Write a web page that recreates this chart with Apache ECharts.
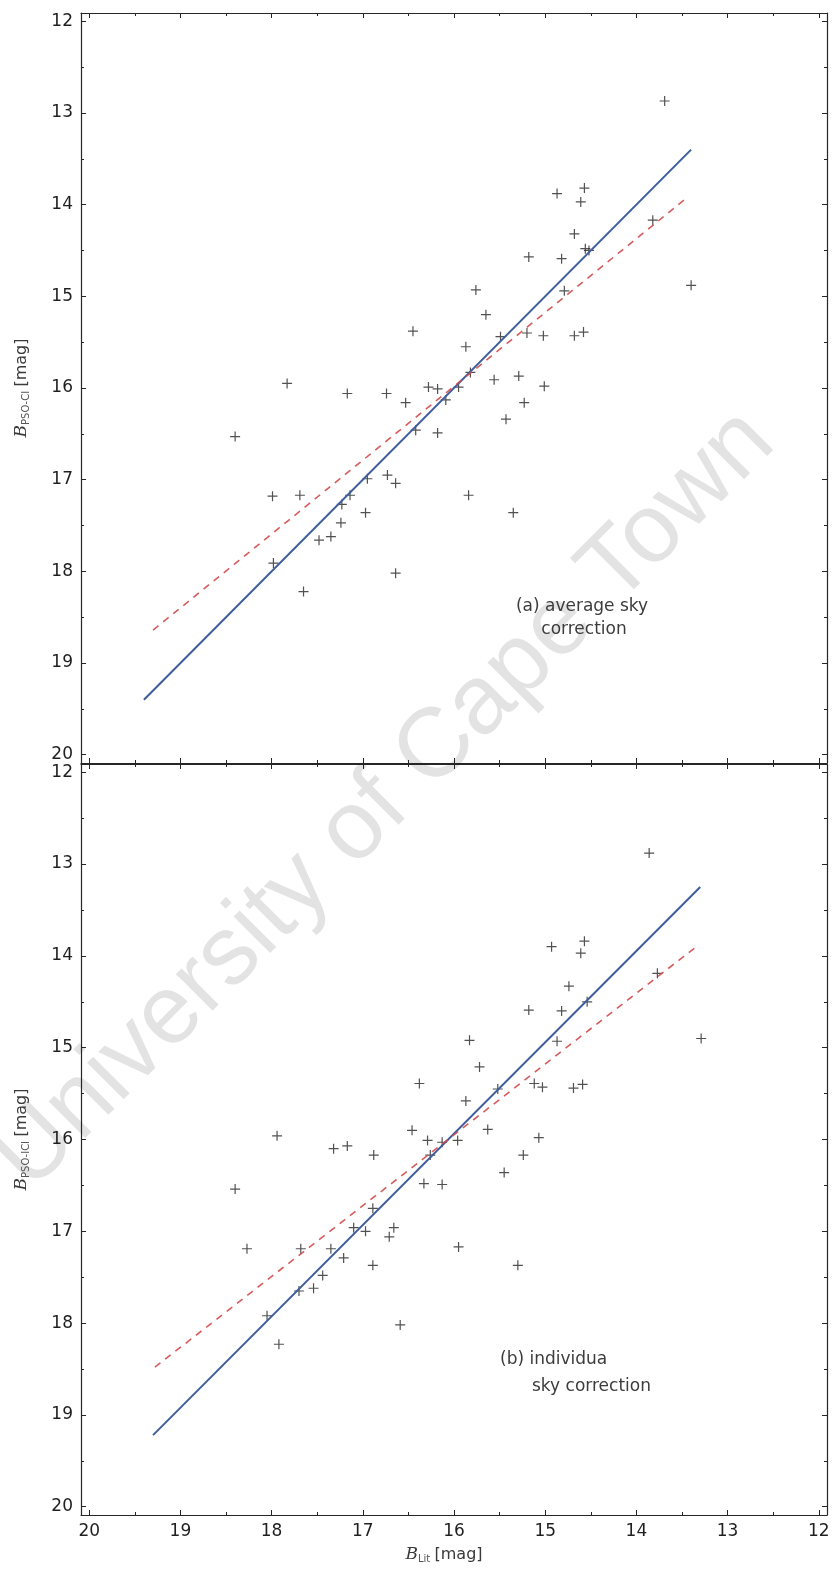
<!DOCTYPE html>
<html>
<head>
<meta charset="utf-8">
<script src="https://cdn.jsdelivr.net/npm/echarts@6/dist/echarts.min.js"></script>
<style>
  html, body { margin: 0; padding: 0; background: #ffffff; }
  #chart { width: 832px; height: 1573px; }
</style>
</head>
<body>
<div id="chart"></div>
<script>
// Tick values shared by both panels (magnitudes, axes run from faint to bright)
const majorTicks = [12, 13, 14, 15, 16, 17, 18, 19, 20];
const minorTicks = [12.5, 13.5, 14.5, 15.5, 16.5, 17.5, 18.5, 19.5];

// (a) average sky correction: [B_Lit, B_PSO-CI]
const avgSkyStars = [
  [13.69, 12.87], [14.57, 13.82], [14.87, 13.88], [14.61, 13.97], [14.68, 14.32],
  [14.56, 14.48], [14.52, 14.50], [15.18, 14.57], [14.82, 14.59], [13.82, 14.17],
  [13.40, 14.88], [15.76, 14.93], [14.79, 14.94], [15.65, 15.20], [16.45, 15.38],
  [15.20, 15.40], [15.02, 15.43], [14.68, 15.43], [14.58, 15.39], [15.49, 15.44],
  [15.87, 15.55], [15.82, 15.83], [17.83, 15.95], [17.17, 16.06], [16.74, 16.06],
  [16.53, 16.16], [16.28, 15.99], [16.18, 16.01], [15.95, 15.99], [15.56, 15.91],
  [15.29, 15.87], [15.01, 15.98], [16.09, 16.13], [15.23, 16.16], [15.43, 16.34],
  [16.42, 16.46], [16.18, 16.49], [18.40, 16.53], [17.99, 17.18], [17.69, 17.17],
  [16.95, 16.99], [16.73, 16.95], [16.64, 17.04], [17.14, 17.17], [17.23, 17.27],
  [16.97, 17.36], [17.24, 17.47], [17.48, 17.66], [17.35, 17.62], [17.98, 17.91],
  [17.65, 18.22], [16.64, 18.02], [15.84, 17.17], [15.35, 17.36]
];
// (b) individual sky correction: [B_Lit, B_PSO-ICI]
const indivSkyStars = [
  [13.86, 12.88], [14.57, 13.84], [14.93, 13.90], [14.61, 13.97], [14.74, 14.33],
  [13.77, 14.19], [14.54, 14.50], [15.18, 14.59], [14.82, 14.60], [13.29, 14.90],
  [14.87, 14.93], [15.83, 14.92], [15.72, 15.21], [16.38, 15.39], [15.87, 15.58],
  [15.52, 15.45], [15.12, 15.39], [15.03, 15.43], [14.69, 15.44], [14.59, 15.40],
  [16.46, 15.90], [15.63, 15.89], [15.07, 15.98], [15.96, 16.01], [16.13, 16.03],
  [16.29, 16.01], [15.24, 16.17], [16.26, 16.17], [17.94, 15.96], [17.32, 16.10],
  [17.17, 16.07], [16.88, 16.17], [15.45, 16.36], [16.33, 16.48], [16.13, 16.49],
  [18.40, 16.54], [16.89, 16.75], [17.10, 16.96], [16.97, 17.00], [16.71, 17.06],
  [16.66, 16.96], [18.27, 17.19], [17.68, 17.19], [17.35, 17.19], [17.21, 17.29],
  [16.89, 17.37], [17.44, 17.48], [17.54, 17.62], [17.70, 17.65], [18.05, 17.92],
  [16.59, 18.02], [17.92, 18.23], [15.95, 17.17], [15.30, 17.37]
];

// One-to-one reference lines and linear fits (end points)
const avgOneToOne = [[19.40, 19.40], [13.40, 13.40]];
const avgFit = [[19.30, 18.64], [13.44, 13.92]];
const indivOneToOne = [[19.30, 19.22], [13.30, 13.25]];
const indivFit = [[19.28, 18.48], [13.33, 13.89]];

const AX_MIN = 11.91, AX_MAX = 20.09;
const FRAME = '#262626';
const TICK_FONT = '"DejaVu Sans", sans-serif';

const chart = echarts.init(document.getElementById('chart'), null, { renderer: 'canvas' });

const grids = [
  { left: 81, top: 13, width: 746, height: 750, containLabel: false, outerBoundsMode: 'none' },
  { left: 81, top: 764, width: 746, height: 751, containLabel: false, outerBoundsMode: 'none' }
];

function axisPair(g, position, withLine, showLabels, nameCfg) {
  const base = {
    type: 'value', gridIndex: g, position: position,
    min: AX_MIN, max: AX_MAX, inverse: true,
    splitLine: { show: false }
  };
  const major = Object.assign({}, base, {
    axisLine: { show: withLine, onZero: false, lineStyle: { color: FRAME, width: 1.2 } },
    axisTick: { show: true, inside: true, length: 5, customValues: majorTicks,
                lineStyle: { color: FRAME, width: 1 } },
    axisLabel: { show: showLabels, customValues: majorTicks, margin: 8,
                 fontFamily: TICK_FONT, fontSize: 17, color: '#1f1f1f',
                 formatter: v => String(Math.round(v)) }
  }, nameCfg || {});
  const minor = Object.assign({}, base, {
    axisLine: { show: false },
    axisTick: { show: true, inside: true, length: 3, customValues: minorTicks,
                lineStyle: { color: FRAME, width: 1 } },
    axisLabel: { show: false, customValues: minorTicks }
  });
  return [major, minor];
}

const nameRich = {
  i: { fontFamily: '"DejaVu Serif", serif', fontStyle: 'italic', fontSize: 17, color: '#3a3a3a' },
  s: { fontFamily: TICK_FONT, fontSize: 10, color: '#555', verticalAlign: 'top', padding: [9, 1, 0, 0] },
  m: { fontFamily: TICK_FONT, fontSize: 16, color: '#3a3a3a' }
};

function yName(sub) {
  return {
    name: '{i|B}{s|' + sub + '} {m|[mag]}',
    nameLocation: 'middle', nameGap: 50, nameRotate: 90,
    nameTextStyle: { rich: nameRich }
  };
}

const xAxis = [], yAxis = [];
for (let g = 0; g < 2; g++) {
  const xName = g === 1 ? {
    name: '{i|B}{s|Lit} {m|[mag]}', nameLocation: 'middle', nameGap: 30,
    nameTextStyle: { rich: nameRich, padding: [0, 20, 0, 0] }
  } : null;
  xAxis.push(...axisPair(g, 'bottom', true, g === 1, xName));
  xAxis.push(...axisPair(g, 'top', true, false, null));
  yAxis.push(...axisPair(g, 'left', true, true, yName(g === 0 ? 'PSO-CI' : 'PSO-ICI')));
  yAxis.push(...axisPair(g, 'right', true, false, null));
}

const plusPath = 'path://M4.4,0H5.6V4.4H10V5.6H5.6V10H4.4V5.6H0V4.4H4.4Z';

function panelSeries(g, stars, oneToOne, fit) {
  const ax = g * 4;
  return [
    {
      type: 'scatter', xAxisIndex: ax, yAxisIndex: ax, data: stars,
      symbol: plusPath, symbolSize: 10,
      itemStyle: { color: '#262626' }, z: 3
    },
    {
      type: 'line', xAxisIndex: ax, yAxisIndex: ax, data: oneToOne,
      showSymbol: false, symbol: 'none',
      lineStyle: { color: '#3d5d9c', width: 2 }, z: 4
    },
    {
      type: 'line', xAxisIndex: ax, yAxisIndex: ax, data: fit,
      showSymbol: false, symbol: 'none',
      lineStyle: { color: '#d24a4a', width: 1.6, type: [7, 6], opacity: 0.9 }, z: 4
    }
  ];
}

const labelFont = '17px "DejaVu Sans", sans-serif';

chart.setOption({
  animation: false,
  backgroundColor: '#ffffff',
  grid: grids,
  xAxis: xAxis,
  yAxis: yAxis,
  series: [
    ...panelSeries(0, avgSkyStars, avgOneToOne, avgFit),
    ...panelSeries(1, indivSkyStars, indivOneToOne, indivFit)
  ],
  graphic: [
    {
      type: 'text', x: 385, y: 800, rotation: 45 * Math.PI / 180, z: -10, silent: true,
      style: {
        text: 'University of Cape Town', font: '98px "Liberation Sans", Arial, sans-serif',
        fill: 'rgba(0,0,0,0.11)', align: 'center', verticalAlign: 'middle'
      }
    },
    { type: 'text', x: 582, y: 607, z: 10,
      style: { text: '(a) average sky', font: labelFont, fill: '#3c3c3c', align: 'center', verticalAlign: 'middle' } },
    { type: 'text', x: 584, y: 630, z: 10,
      style: { text: 'correction', font: labelFont, fill: '#3c3c3c', align: 'center', verticalAlign: 'middle' } },
    { type: 'text', x: 500, y: 1360, z: 10,
      style: { text: '(b) individua', font: labelFont, fill: '#3c3c3c', align: 'left', verticalAlign: 'middle' } },
    { type: 'text', x: 532, y: 1387, z: 10,
      style: { text: 'sky correction', font: labelFont, fill: '#3c3c3c', align: 'left', verticalAlign: 'middle' } }
  ]
});
</script>
</body>
</html>
